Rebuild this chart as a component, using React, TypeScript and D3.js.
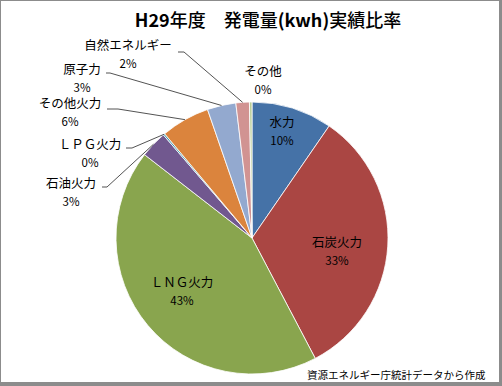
import React from "react";
import * as d3 from "d3";

const categories = ["水力", "石炭火力", "ＬＮＧ火力", "石油火力", "ＬＰＧ火力", "その他火力", "原子力", "自然エネルギー", "その他"];
const values = [9.6, 32.7, 43.2, 3.2, 0.2, 5.8, 3.4, 1.6, 0.3];
const colors = ["#4572A7", "#AA4643", "#89A54E", "#71588F", "#4198AF", "#DB843D", "#93A9CF", "#D19392", "#B9CD96"];

// label layout: centre of the name line, plus optional leader elbow (x1 -> x2 at y)
const labelPos = [
  { x: 282, y: 123 },
  { x: 337, y: 243 },
  { x: 182, y: 283 },
  { x: 71, y: 184, lead: [102, 107, 187] },
  { x: 90, y: 145, lead: [126, 132, 148] },
  { x: 70, y: 104, lead: [107, 118, 109] },
  { x: 82, y: 70, lead: [106, 110, 73] },
  { x: 128, y: 46, lead: [178, 184, 52] },
  { x: 263, y: 72 },
];

const W = 502;
const H = 386;
const cx = 252;
const cy = 238;
const R = 136;
const jp = "'Noto Sans CJK JP', sans-serif";

export default function App() {
  const pie = d3.pie<number>().sort(null).value((d) => d)(values);
  const arc = d3.arc<d3.PieArcDatum<number>>().innerRadius(0).outerRadius(R);
  const edge = d3.arc<d3.PieArcDatum<number>>().innerRadius(R).outerRadius(R);

  return (
    <svg width={W} height={H} style={{ position: "absolute", left: 0, top: 0, display: "block" }}>
      <rect width={W} height={H} fill="#8c8c8c" />
      <rect x={1} y={1} width={498} height={381} fill="#fff" />
      <text x={268} y={27} textAnchor="middle" fontFamily={jp} fontSize={18} fill="#000" style={{ whiteSpace: "pre" }}>
        <tspan fontWeight="bold">H29</tspan>
        <tspan fontWeight="500">年度　発電量</tspan>
        <tspan fontWeight="bold">(kwh)</tspan>
        <tspan fontWeight="500">実績比率</tspan>
      </text>
      <g transform={`translate(${cx},${cy})`}>
        {pie.map((p, i) => (
          <path key={i} d={arc(p) || ""} fill={colors[i]} stroke="#fff" strokeWidth={0.8} />
        ))}
      </g>
      {pie.map((p, i) => {
        const lp = labelPos[i];
        if (!lp.lead) return null;
        const [ex, ey] = edge.centroid(p);
        const [x1, x2, y] = lp.lead;
        return (
          <polyline
            key={"l" + i}
            points={`${x1},${y} ${x2},${y} ${cx + ex},${cy + ey}`}
            fill="none"
            stroke="#404040"
            strokeWidth={0.9}
          />
        );
      })}
      {pie.map((p, i) => {
        const lp = labelPos[i];
        return (
          <g key={"t" + i} fontFamily={jp} fill="#000" textAnchor="middle">
            <text x={lp.x} y={lp.y} dy="0.35em" fontSize={12.5}>
              {categories[i]}
            </text>
            <text x={lp.x} y={lp.y + 18} dy="0.35em" fontSize={11.5}>
              {Math.round(values[i])}%
            </text>
          </g>
        );
      })}
      <text x={307} y={375} dy="0.35em" fontFamily={jp} fontSize={10.5} fill="#000">
        資源エネルギー庁統計データから作成
      </text>
    </svg>
  );
}
